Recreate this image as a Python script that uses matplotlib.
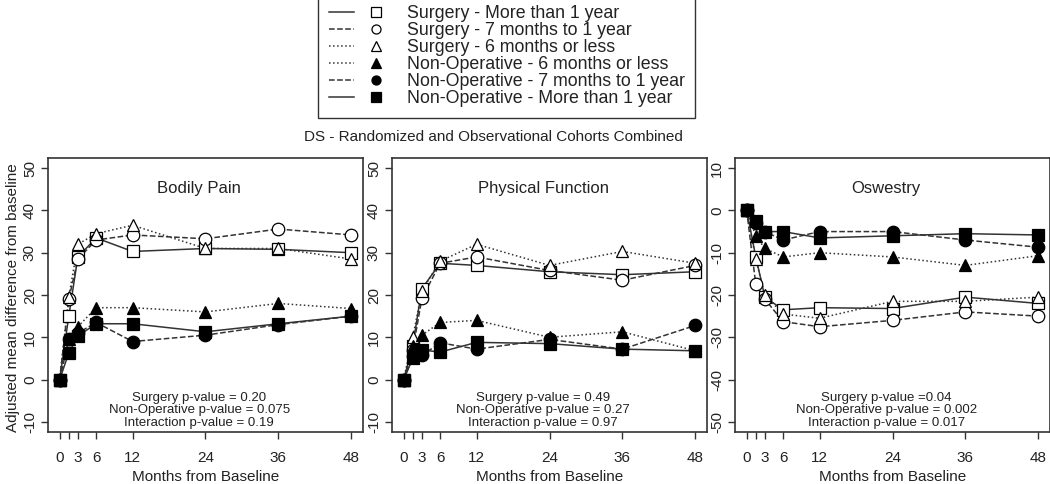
import matplotlib
matplotlib.use("Agg")
import matplotlib.pyplot as plt
from matplotlib.lines import Line2D
from matplotlib.legend_handler import HandlerTuple

plt.rcParams['font.family'] = ['Liberation Sans', 'DejaVu Sans']

months = [0, 1.5, 3, 6, 12, 24, 36, 48]
tick_pos = [0, 1.5, 3, 6, 12, 24, 36, 48]
tick_lab = ['0', '', '3', '6', '12', '24', '36', '48']

groups = ['Surgery - More than 1 year',
          'Surgery - 7 months to 1 year',
          'Surgery - 6 months or less',
          'Non-Operative - 6 months or less',
          'Non-Operative - 7 months to 1 year',
          'Non-Operative - More than 1 year']

# Bodily Pain
bp_surg_gt1 = [0, 15, 29, 33.5, 30.3, 31, 30.8, 30]
bp_surg_7to12 = [0, 19, 28.5, 33, 34.2, 33.3, 35.6, 34.2]
bp_surg_le6 = [0, 19.5, 32, 34.5, 36.5, 31, 31, 28.5]
bp_nonop_le6 = [0, 9.5, 12.5, 17, 17, 16, 18, 16.8]
bp_nonop_7to12 = [0, 9.5, 11, 13.5, 9, 10.5, 13, 15]
bp_nonop_gt1 = [0, 6.3, 10.3, 13.2, 13.2, 11.3, 13.2, 15]

# Physical Function
pf_surg_gt1 = [0, 8, 21.5, 27.5, 27, 25.5, 24.8, 25.5]
pf_surg_7to12 = [0, 7, 19.2, 27.5, 29, 25.8, 23.5, 27]
pf_surg_le6 = [0, 10, 21, 28, 32, 27, 30.3, 27.5]
pf_nonop_le6 = [0, 8, 10.5, 13.5, 14, 10, 11.3, 6.8]
pf_nonop_7to12 = [0, 5.5, 5.7, 8.7, 7.2, 9.5, 7.2, 12.8]
pf_nonop_gt1 = [0, 5, 7, 6.5, 8.8, 8.5, 7.2, 6.8]

# Oswestry
odi_surg_gt1 = [0, -11, -20.5, -23.5, -23, -23.2, -20.5, -22]
odi_surg_7to12 = [0, -17.5, -21, -26.3, -27.5, -26, -24, -25]
odi_surg_le6 = [0, -11.5, -20, -24.5, -25.5, -21.5, -21.5, -20.5]
odi_nonop_le6 = [0, -6, -9, -11, -10, -11, -13, -10.7]
odi_nonop_7to12 = [0, -3, -5, -7, -5, -5, -7, -8.7]
odi_nonop_gt1 = [0, -2.5, -5, -5, -6.5, -6, -5.5, -5.8]

panels = [
    ('Bodily Pain', [bp_surg_gt1, bp_surg_7to12, bp_surg_le6, bp_nonop_le6, bp_nonop_7to12, bp_nonop_gt1],
     (-10, 50), 'Surgery p-value = 0.20\nNon-Operative p-value = 0.075\nInteraction p-value = 0.19'),
    ('Physical Function', [pf_surg_gt1, pf_surg_7to12, pf_surg_le6, pf_nonop_le6, pf_nonop_7to12, pf_nonop_gt1],
     (-10, 50), 'Surgery p-value = 0.49\nNon-Operative p-value = 0.27\nInteraction p-value = 0.97'),
    ('Oswestry', [odi_surg_gt1, odi_surg_7to12, odi_surg_le6, odi_nonop_le6, odi_nonop_7to12, odi_nonop_gt1],
     (-50, 10), 'Surgery p-value =0.04\nNon-Operative p-value = 0.002\nInteraction p-value = 0.017'),
]

styles = [('-', 's', 'white'), ('--', 'o', 'white'), (':', '^', 'white'),
          (':', '^', 'black'), ('--', 'o', 'black'), ('-', 's', 'black')]
line_col = '#333333'
txt_col = '#222222'

fig = plt.figure(figsize=(10.5, 4.84), dpi=100)
lefts = [48, 392, 735]
for p, (title, series, (ylo, yhi), ptext) in enumerate(panels):
    ax = fig.add_axes([lefts[p] / 1050, 52 / 484, 315 / 1050, 274 / 484])
    for vals, (ls, mk, fc) in zip(series, styles):
        ax.plot(months, vals, linestyle=ls, color=line_col, lw=1.1, zorder=2)
        ax.plot(months, vals, linestyle='none', marker=mk, ms=9,
                mfc=fc, mec='black', mew=0.9, zorder=3)
    pad = (yhi - ylo) * 0.04
    ax.set_ylim(ylo - pad, yhi + pad)
    ax.set_xlim(-1.92, 49.92)
    ax.set_yticks(range(ylo, yhi + 1, 10))
    ax.set_yticklabels([str(v) for v in range(ylo, yhi + 1, 10)], rotation=90, va='center',
                       fontsize=11, color=txt_col)
    ax.set_xticks(tick_pos)
    ax.set_xticklabels(tick_lab, fontsize=11, color=txt_col)
    ax.tick_params(axis='both', length=5, width=1, color='#333333')
    ax.tick_params(axis='x', pad=9)
    ax.tick_params(axis='y', pad=3)
    ax.set_xlabel('Months from Baseline', fontsize=11, labelpad=3, color=txt_col)
    for s in ax.spines.values():
        s.set_linewidth(1.2)
        s.set_color('#333333')
    ax.text(0.48, 0.89, title, transform=ax.transAxes, ha='center', va='center',
            fontsize=12, color=txt_col)
    ax.text(0.48, 0.012, ptext, transform=ax.transAxes, ha='center', va='bottom', fontsize=9.5,
            linespacing=1.05, color=txt_col)

fig.text(13 / 1050, 1 - 298 / 484, 'Adjusted mean difference from baseline', rotation=90,
         ha='center', va='center', fontsize=11, color=txt_col)
fig.text(493 / 1050, 1 - 137 / 484, 'DS - Randomized and Observational Cohorts Combined',
         ha='center', va='center', fontsize=11, color=txt_col)

handles = []
for ls, mk, fc in styles:
    ln = Line2D([], [], linestyle=ls, color=line_col, lw=1.1)
    m = Line2D([], [], linestyle='none', marker=mk, ms=6.5, mfc=fc, mec='black', mew=0.9)
    handles.append((ln, m))
leg = fig.legend(handles, groups, loc='lower left', bbox_to_anchor=(318 / 1050, 1 - 118 / 484),
                 handler_map={tuple: HandlerTuple(ndivide=2, pad=0.53)},
                 handlelength=3.35, handletextpad=1.04, labelspacing=0.0, fontsize=12.8,
                 fancybox=False, edgecolor='black', borderpad=0.6, borderaxespad=0)
leg.get_frame().set_linewidth(1.0)
for t in leg.get_texts():
    t.set_color(txt_col)

fig.savefig('out.png', dpi=100)
